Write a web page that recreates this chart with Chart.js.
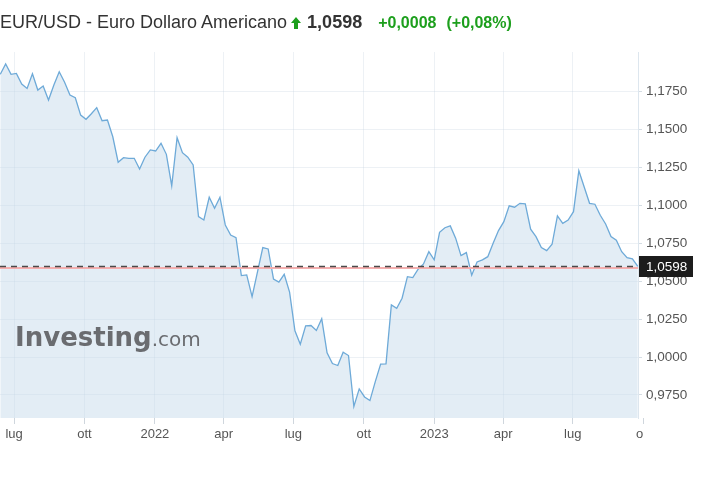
<!DOCTYPE html>
<html><head><meta charset="utf-8">
<script src="https://cdn.jsdelivr.net/npm/chart.js@4/dist/chart.umd.min.js"></script>
<style>
html,body{margin:0;padding:0;background:#fff;width:720px;height:480px;overflow:hidden;}
#wrap{position:relative;width:720px;height:480px;}
#c{position:absolute;left:0;top:0;}
.hdr{position:absolute;left:0;top:12px;white-space:nowrap;font-family:"Liberation Sans",Arial,sans-serif;font-size:18px;color:#333;}
.hdr svg{margin-left:4px;vertical-align:-1px;}
.hdr .px{font-weight:bold;color:#333;margin-left:6px;}
.hdr .chg{font-weight:bold;color:#1d9f1d;font-size:16px;margin-left:16px;}
.hdr .pct{font-weight:bold;color:#1d9f1d;font-size:16px;margin-left:10px;}
.wm{position:absolute;left:15px;top:324px;line-height:1;white-space:nowrap;color:rgba(85,85,88,0.85);font-family:"DejaVu Sans",sans-serif;}
.wm b{font-size:26px;font-weight:bold;}
.wm span{font-size:20px;}
</style></head><body>
<div id="wrap">
<canvas id="c" width="720" height="480"></canvas>
<div class="hdr">EUR/USD - Euro Dollaro Americano<svg width="10" height="12" viewBox="0 0 10 12"><polygon points="5,0 10,6 7,6 7,12 3,12 3,6 0,6" fill="#1d9f1d"/></svg><span class="px">1,0598</span><span class="chg">+0,0008</span><span class="pct">(+0,08%)</span></div>
<div class="wm"><b>Investing</b><span>.com</span></div>
</div>
<script>
// ---- data ----
const firstWeek = '2021-06-13';          // date of the first weekly point
const eurusd = [
 1.1865, 1.1933, 1.1865, 1.1871, 1.1801, 1.1772, 1.1869, 1.1761, 1.1788, 1.1695,
 1.1794, 1.1882, 1.1812, 1.1728, 1.1710, 1.1596, 1.1568, 1.1605, 1.1645, 1.1559,
 1.1563, 1.1453, 1.1285, 1.1315, 1.1311, 1.1311, 1.1240, 1.1318, 1.1366, 1.1359,
 1.1410, 1.1337, 1.1130, 1.1447, 1.1348, 1.1318, 1.1267, 1.0926, 1.0904, 1.1054,
 1.0981, 1.1054, 1.0871, 1.0805, 1.0788, 1.0537, 1.0542, 1.0399, 1.0560, 1.0722,
 1.0713, 1.0515, 1.0494, 1.0546, 1.0428, 1.0173, 1.0085, 1.0206, 1.0208, 1.0175,
 1.0252, 1.0028, 0.9957, 0.9944, 1.0032, 1.0010, 0.9674, 0.9790, 0.9737, 0.9713,
 0.9838, 0.9953, 0.9955, 1.0344, 1.0322, 1.0388, 1.0530, 1.0524, 1.0579, 1.0614,
 1.0695, 1.0641, 1.0823, 1.0853, 1.0865, 1.0784, 1.0669, 1.0689, 1.0540, 1.0627,
 1.0641, 1.0662, 1.0751, 1.0834, 1.0893, 1.0997, 1.0988, 1.1014, 1.1010, 1.0843,
 1.0794, 1.0722, 1.0702, 1.0744, 1.0931, 1.0882, 1.0904, 1.0959, 1.1229, 1.1122,
 1.1014, 1.1008, 1.0935, 1.0878, 1.0795, 1.0770, 1.0695, 1.0655, 1.0648, 1.0598
];
const xTickDates  = ['2021-07-01','2021-10-01','2022-01-01','2022-04-01','2022-07-01','2022-10-01','2023-01-01','2023-04-01','2023-07-01','2023-10-01'];
const xTickLabels = ['lug','ott','2022','apr','lug','ott','2023','apr','lug','ott'];
const yTicks = [0.975, 1.000, 1.025, 1.050, 1.075, 1.100, 1.125, 1.150, 1.175];
const lastPrice = 1.0598;

// ---- helpers ----
const DAY = 86400000;
const t0 = Date.parse(firstWeek);
const dayOf = d => (Date.parse(d) - t0) / DAY;
const points = eurusd.map((v, i) => ({ x: i * 7, y: v }));
const fmt = v => v.toFixed(4).replace('.', ',');
const X_MIN = -0.4, X_MAX = 833.3;
const GRID = 'rgba(190,205,220,0.28)';

const refLine = {
  id: 'refLine',
  afterDatasetsDraw(chart) {
    const { ctx, chartArea: a, scales: { y } } = chart;
    const py = Math.round(y.getPixelForValue(lastPrice));
    ctx.save();
    ctx.strokeStyle = '#f4aeae';
    ctx.lineWidth = 2;
    ctx.beginPath(); ctx.moveTo(a.left, py + 2); ctx.lineTo(a.right, py + 2); ctx.stroke();
    ctx.strokeStyle = '#4a4a4a';
    ctx.lineWidth = 1.5;
    ctx.setLineDash([6, 5]);
    ctx.beginPath(); ctx.moveTo(a.left, py + 0.5); ctx.lineTo(a.right, py + 0.5); ctx.stroke();
    ctx.restore();
  },
  afterDraw(chart) {
    const { ctx, chartArea: a, scales: { y } } = chart;
    // clip the overflowing last x label like the original
    ctx.save();
    ctx.fillStyle = '#fff';
    ctx.fillRect(a.right + 5, a.bottom + 8, 200, 60);
    const py = Math.round(y.getPixelForValue(lastPrice));
    ctx.fillStyle = '#1c1c1c';
    ctx.fillRect(a.right + 1, py - 10, 54, 21);
    ctx.fillStyle = '#fff';
    ctx.font = '13.5px "Liberation Sans", Arial, sans-serif';
    ctx.textBaseline = 'middle';
    ctx.textAlign = 'left';
    ctx.fillText(fmt(lastPrice), a.right + 8, py + 1);
    ctx.restore();
  }
};

new Chart(document.getElementById('c'), {
  type: 'line',
  data: {
    datasets: [{
      data: points,
      borderColor: '#6eaad8',
      borderWidth: 1.3,
      backgroundColor: 'rgba(199,219,235,0.5)',
      fill: 'start',
      tension: 0,
      pointRadius: 0
    }]
  },
  options: {
    responsive: false,
    devicePixelRatio: 1,
    animation: false,
    events: [],
    layout: { padding: { left: 0, top: 52, right: 0, bottom: 0 } },
    plugins: { legend: { display: false }, tooltip: { enabled: false }, title: { display: false } },
    scales: {
      x: {
        type: 'linear',
        min: X_MIN,
        max: X_MAX,
        afterBuildTicks: ax => { ax.ticks = xTickDates.map(d => ({ value: dayOf(d) })); },
        afterFit: ax => { ax.height = 62; },
        grid: {
          color: c => (c.tick && c.tick.value > X_MAX ? 'rgba(0,0,0,0)' : GRID),
          tickColor: '#cfd6dd', tickLength: 6, drawOnChartArea: true
        },
        border: { display: false },
        ticks: {
          autoSkip: false, maxRotation: 0, padding: 3,
          color: '#555',
          font: { family: '"Liberation Sans", Arial, sans-serif', size: 13 },
          callback: (v, i) => xTickLabels[i]
        }
      },
      y: {
        position: 'right',
        min: 0.9598,
        max: 1.2012,
        afterBuildTicks: ax => { ax.ticks = yTicks.map(v => ({ value: v })); },
        afterFit: ax => { ax.width = 82; },
        grid: { color: GRID, tickColor: '#d5dde4', tickLength: 4 },
        border: { display: true, color: '#dde6ee', width: 1 },
        ticks: {
          padding: 4,
          color: '#555',
          font: { family: '"Liberation Sans", Arial, sans-serif', size: 13.5 },
          callback: v => fmt(v)
        }
      }
    }
  },
  plugins: [refLine]
});
</script>
</body></html>
